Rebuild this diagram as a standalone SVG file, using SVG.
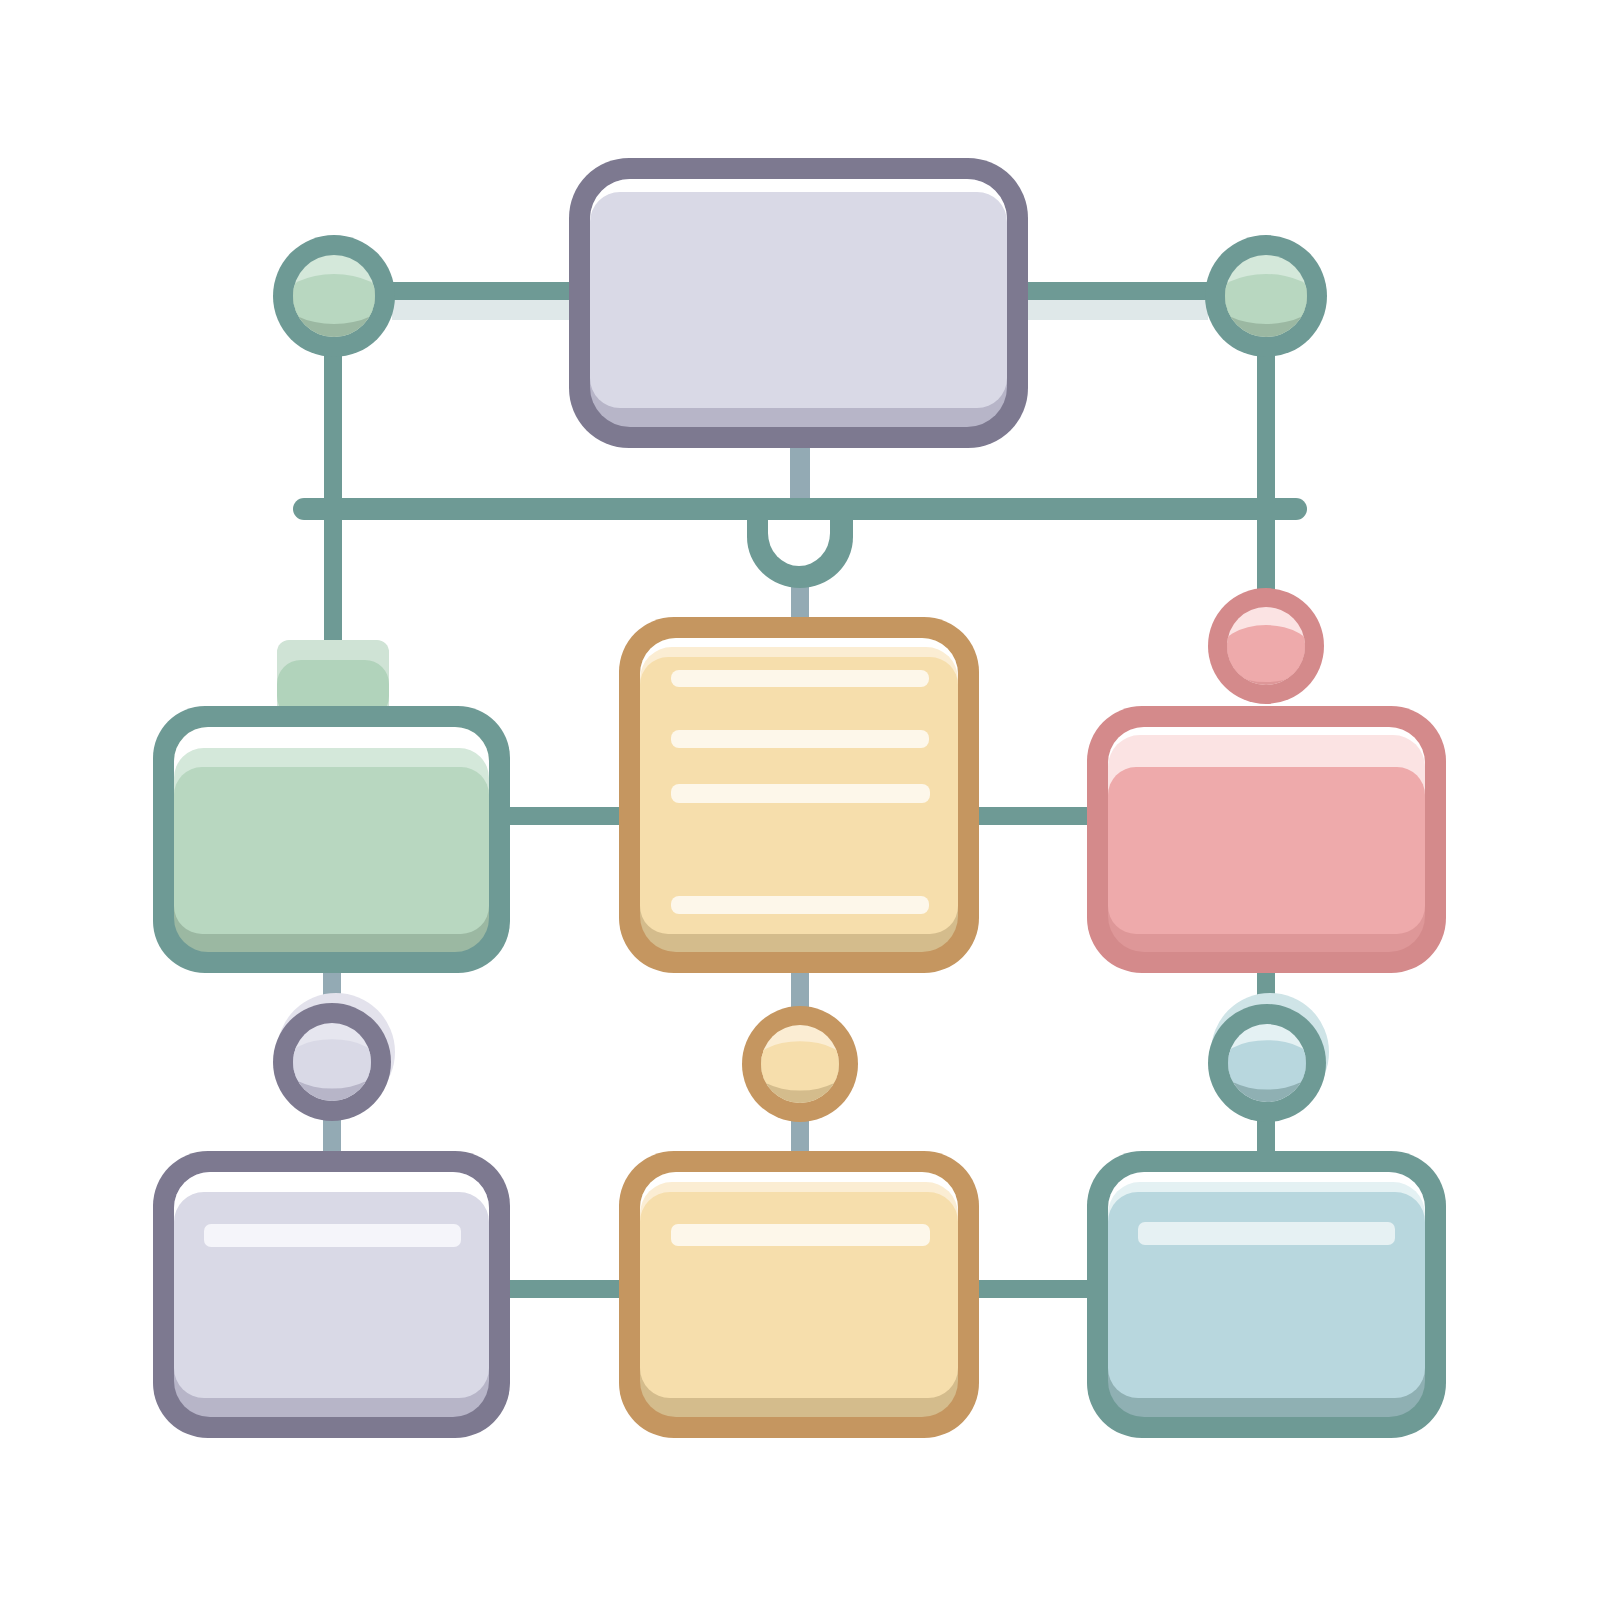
<svg xmlns="http://www.w3.org/2000/svg" width="1600" height="1600" viewBox="0 0 1600 1600">
<defs>
<clipPath id="cc" clipPathUnits="userSpaceOnUse"><circle cx="0" cy="0" r="41"/></clipPath>
<style>
.teal{fill:#6e9a95}
.pale{fill:#93aab4}
.shadow{fill:#dfe8e9}
.pS{fill:#7d7990}.pD{fill:#b7b5c8}.pL{fill:#e6e6ef}.pM{fill:#d9d9e6}
.gS{fill:#6e9a95}.gD{fill:#9bb8a2}.gL{fill:#d4e8da}.gM{fill:#b8d7c0}
.oS{fill:#c59660}.oD{fill:#d4bc8c}.oL{fill:#fbedd3}.oM{fill:#f6deac}
.rS{fill:#d48a8b}.rD{fill:#de9798}.rL{fill:#fbe3e3}.rM{fill:#eeaaab}
.bS{fill:#6e9a95}.bD{fill:#8fb0b3}.bL{fill:#e4f1f3}.bM{fill:#b8d7de}
.w{fill:#ffffff}
.strip{fill:#fdf7ea}
</style>
</defs>
<rect width="1600" height="1600" fill="#ffffff"/>

<g id="connectors">
  <rect class="shadow" x="392" y="300" width="178" height="20"/>
  <rect class="teal" x="390" y="282" width="182" height="18"/>
  <rect class="shadow" x="1028" y="300" width="180" height="20"/>
  <rect class="teal" x="1025" y="282" width="185" height="18"/>
  <rect class="teal" x="324" y="350" width="18" height="300"/>
  <rect class="teal" x="1257" y="350" width="18" height="245"/>
  <rect class="pale" x="790" y="440" width="20" height="65"/>
  <rect class="pale" x="791" y="575" width="18" height="50"/>
  <path class="teal" d="M747 512 L747 537 A53 51 0 0 0 853 537 L853 512 Z"/>
  <path fill="#ffffff" d="M768 516 L768 533 A31 33 0 0 0 830 533 L830 516 Z"/>
  <line x1="304" y1="509" x2="1296" y2="509" stroke="#6e9a95" stroke-width="22" stroke-linecap="round"/>
  <rect class="teal" x="500" y="807" width="130" height="18"/>
  <rect class="teal" x="970" y="807" width="125" height="18"/>
  <rect class="pale" x="323" y="965" width="18" height="195"/>
  <rect class="pale" x="791" y="965" width="18" height="195"/>
  <rect class="teal" x="1257" y="965" width="18" height="195"/>
  <rect class="teal" x="500" y="1280" width="130" height="18"/>
  <rect class="teal" x="970" y="1280" width="125" height="18"/>
</g>

<g id="c-top-left" transform="translate(334,296)">
  <circle r="61" class="teal"/>
  <g clip-path="url(#cc)">
    <rect x="-45" y="-45" width="90" height="90" class="gL"/>
    <ellipse cx="0" cy="12" rx="50" ry="30" class="gD"/>
    <ellipse cx="0" cy="3" rx="50" ry="25" class="gM"/>
  </g>
</g>
<g id="c-top-right" transform="translate(1266,296)">
  <circle r="61" class="teal"/>
  <g clip-path="url(#cc)">
    <rect x="-45" y="-45" width="90" height="90" class="gL"/>
    <ellipse cx="0" cy="12" rx="50" ry="30" class="gD"/>
    <ellipse cx="0" cy="3" rx="50" ry="25" class="gM"/>
  </g>
</g>

<g id="n-top">
  <rect x="569" y="158" width="459" height="290" rx="60" class="pS"/>
  <rect x="590" y="179" width="417" height="248" rx="40" class="pD"/>
  <rect x="590" y="179" width="417" height="120" rx="40" class="w"/>
  <rect x="590" y="192" width="417" height="216" rx="30" class="pM"/>
</g>

<g id="n-green">
  <rect x="277" y="640" width="112" height="80" rx="12" fill="#cfe3d5"/>
  <rect x="277" y="660" width="112" height="60" rx="24" fill="#b1d3bb"/>
  <rect x="153" y="706" width="357" height="267" rx="52" class="gS"/>
  <rect x="174" y="727" width="315" height="225" rx="34" class="gD"/>
  <rect x="174" y="727" width="315" height="110" rx="34" class="w"/>
  <rect x="174" y="748" width="315" height="110" rx="30" class="gL"/>
  <rect x="174" y="767" width="315" height="167" rx="28" class="gM"/>
</g>

<g id="n-orange">
  <rect x="619" y="617" width="360" height="356" rx="55" class="oS"/>
  <rect x="640" y="638" width="318" height="314" rx="36" class="oD"/>
  <rect x="640" y="638" width="318" height="150" rx="36" class="w"/>
  <rect x="640" y="647" width="318" height="150" rx="32" class="oL"/>
  <rect x="640" y="657" width="318" height="277" rx="28" class="oM"/>
  <rect x="671" y="670" width="258" height="17" rx="8" class="strip"/>
  <rect x="671" y="730" width="258" height="18" rx="8" class="strip"/>
  <rect x="671" y="784" width="259" height="19" rx="8" class="strip"/>
  <rect x="671" y="896" width="258" height="18" rx="8" class="strip"/>
</g>

<g id="c-pink" transform="translate(1266,646)">
  <circle r="58" class="rS"/>
  <g clip-path="url(#cc)" transform="scale(0.95)">
    <rect x="-45" y="-45" width="90" height="90" class="rL"/>
    <ellipse cx="0" cy="14" rx="50" ry="30" class="rD"/>
    <ellipse cx="0" cy="8" rx="50" ry="30" class="rM"/>
  </g>
</g>

<g id="n-pink">
  <rect x="1087" y="706" width="359" height="267" rx="55" class="rS"/>
  <rect x="1108" y="727" width="317" height="225" rx="36" class="rD"/>
  <rect x="1108" y="727" width="317" height="110" rx="36" class="w"/>
  <rect x="1108" y="735" width="317" height="110" rx="32" class="rL"/>
  <rect x="1108" y="767" width="317" height="167" rx="28" class="rM"/>
</g>

<g id="c-bottom-left">
  <circle cx="336" cy="1052" r="59" fill="#e3e2ec"/>
  <g transform="translate(332,1062)">
    <circle r="59" class="pS"/>
    <g clip-path="url(#cc)" transform="scale(0.95)">
      <rect x="-45" y="-45" width="90" height="90" class="pL"/>
      <ellipse cx="0" cy="12" rx="50" ry="30" class="pD"/>
      <ellipse cx="0" cy="2" rx="50" ry="26" class="pM"/>
    </g>
  </g>
</g>
<g id="c-bottom-mid" transform="translate(800,1064)">
  <circle r="58" class="oS"/>
  <g clip-path="url(#cc)" transform="scale(0.95)">
    <rect x="-45" y="-45" width="90" height="90" class="oL"/>
    <ellipse cx="0" cy="12" rx="50" ry="30" class="oD"/>
    <ellipse cx="0" cy="2" rx="50" ry="26" class="oM"/>
  </g>
</g>
<g id="c-bottom-right">
  <circle cx="1270" cy="1052" r="59" fill="#cfe4e7"/>
  <g transform="translate(1267,1063)">
    <circle r="59" class="teal"/>
    <g clip-path="url(#cc)" transform="scale(0.95)">
      <rect x="-45" y="-45" width="90" height="90" class="bL"/>
      <ellipse cx="0" cy="12" rx="50" ry="30" class="bD"/>
      <ellipse cx="0" cy="2" rx="50" ry="26" class="bM"/>
    </g>
  </g>
</g>

<g id="n-bottom-left">
  <rect x="153" y="1151" width="357" height="287" rx="55" class="pS"/>
  <rect x="174" y="1172" width="315" height="245" rx="36" class="pD"/>
  <rect x="174" y="1172" width="315" height="120" rx="36" class="w"/>
  <rect x="174" y="1192" width="315" height="206" rx="30" class="pM"/>
  <rect x="204" y="1224" width="257" height="23" rx="7" fill="#f5f5fa"/>
</g>

<g id="n-bottom-mid">
  <rect x="619" y="1151" width="360" height="287" rx="55" class="oS"/>
  <rect x="640" y="1172" width="318" height="245" rx="36" class="oD"/>
  <rect x="640" y="1172" width="318" height="120" rx="36" class="w"/>
  <rect x="640" y="1182" width="318" height="120" rx="32" class="oL"/>
  <rect x="640" y="1192" width="318" height="206" rx="30" class="oM"/>
  <rect x="671" y="1224" width="259" height="22" rx="7" class="strip"/>
</g>

<g id="n-bottom-right">
  <rect x="1087" y="1151" width="359" height="287" rx="55" class="bS"/>
  <rect x="1108" y="1172" width="317" height="245" rx="36" class="bD"/>
  <rect x="1108" y="1172" width="317" height="120" rx="36" class="w"/>
  <rect x="1108" y="1182" width="317" height="120" rx="32" class="bL"/>
  <rect x="1108" y="1192" width="317" height="206" rx="30" class="bM"/>
  <rect x="1138" y="1222" width="257" height="23" rx="7" fill="#e6f1f3"/>
</g>
</svg>
